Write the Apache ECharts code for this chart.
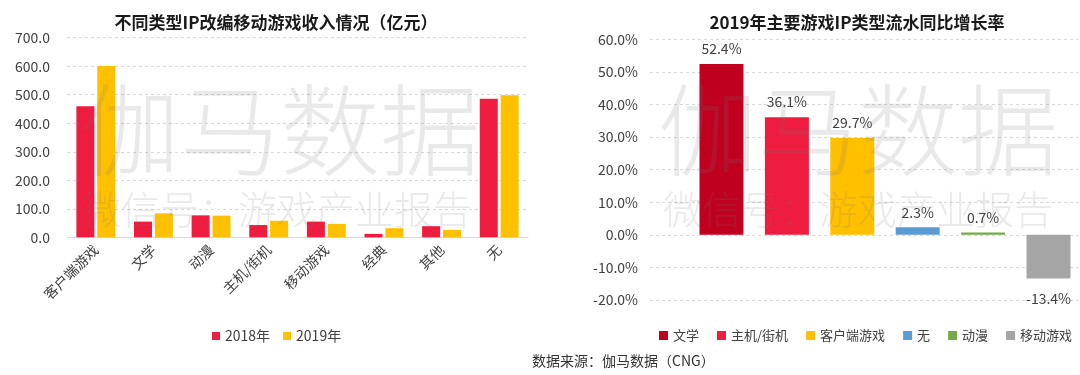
<!DOCTYPE html>
<html>
<head>
<meta charset="utf-8">
<script src="https://cdn.jsdelivr.net/npm/echarts@6/dist/echarts.min.js"></script>
<style>
html,body{margin:0;padding:0;background:#fff;}
#c{width:1080px;height:375px;}
</style>
</head>
<body>
<div id="c"></div>
<script>
// ---- data ----
const categories = ['客户端游戏', '文学', '动漫', '主机/街机', '移动游戏', '经典', '其他', '无'];
const revenue2018 = [460, 55, 77, 43, 55, 12, 39, 486];
const revenue2019 = [601, 84, 76, 58, 47, 32, 26, 498];
const yearNames = ['2018年', '2019年'];

const growthCats = ['文学', '主机/街机', '客户端游戏', '无', '动漫', '移动游戏'];
const growthValues = [52.4, 36.1, 29.7, 2.3, 0.7, -13.4];
const growthColors = ['#C0001F', '#EE1C3E', '#FFC000', '#5B9BD5', '#70AD47', '#A5A5A5'];

const leftTitle = '不同类型IP改编移动游戏收入情况（亿元）';
const rightTitle = '2019年主要游戏IP类型流水同比增长率';
const footer = '数据来源：伽马数据（CNG）';

const FONT = '"Noto Sans CJK SC", "Noto Sans", sans-serif';
const grid0 = {left: 67, right: 552, top: 37.7, bottom: 137.7};
const grid1 = {left: 650, right: 2, top: 39.3, bottom: 75};

const chart = echarts.init(document.getElementById('c'), null, {renderer: 'canvas'});

const splitLine = {show: true, lineStyle: {color: '#d9d9d9', type: [3, 3], width: 1}};

const growthSeries = growthCats.map((name, i) => ({
  name: name,
  type: 'bar',
  xAxisIndex: 1,
  yAxisIndex: 1,
  stack: 'g',
  barWidth: 44,
  itemStyle: {color: growthColors[i]},
  label: {
    show: true,
    position: growthValues[i] >= 0 ? 'top' : 'bottom',
    distance: growthValues[i] >= 0 ? 8 : 13,
    fontSize: 14,
    fontFamily: FONT,
    color: '#404040',
    formatter: p => p.value[1].toFixed(1) + '%'
  },
  data: [[i, growthValues[i]]]
}));

const option = {
  animation: false,
  backgroundColor: '#fff',
  textStyle: {fontFamily: FONT},
  title: [
    {text: leftTitle, left: 271, top: 9, textAlign: 'center',
      textStyle: {fontSize: 17, fontWeight: 'bold', color: '#1a1a1a', fontFamily: FONT}},
    {text: rightTitle, left: 852, top: 9, textAlign: 'center',
      textStyle: {fontSize: 17, fontWeight: 'bold', color: '#1a1a1a', fontFamily: FONT}}
  ],
  legend: [
    {data: yearNames, left: 207, top: 324, itemWidth: 8, itemHeight: 8, itemGap: 13,
      icon: 'rect', textStyle: {fontSize: 14, color: '#404040', fontFamily: FONT}},
    {data: growthCats, left: 654, top: 324, width: 426, itemWidth: 9, itemHeight: 9, itemGap: 18,
      icon: 'rect', textStyle: {fontSize: 13, color: '#404040', fontFamily: FONT}}
  ],
  grid: [grid0, grid1],
  xAxis: [
    {type: 'category', gridIndex: 0, data: categories,
      axisLine: {show: true, lineStyle: {color: '#d9d9d9'}},
      axisTick: {show: false},
      axisLabel: {interval: 0, rotate: 45, fontSize: 14, color: '#404040', margin: 10, fontFamily: FONT}},
    {type: 'value', gridIndex: 1, min: -1.093, max: 5.451,
      show: false, splitLine: {show: false}}
  ],
  yAxis: [
    {type: 'value', gridIndex: 0, min: 0, max: 700, interval: 100,
      axisLine: {show: false}, axisTick: {show: false},
      axisLabel: {fontSize: 14, color: '#404040', margin: 17, formatter: v => v.toFixed(1), fontFamily: FONT},
      splitLine: splitLine},
    {type: 'value', gridIndex: 1, min: -20, max: 60, interval: 10,
      axisLine: {show: false}, axisTick: {show: false},
      axisLabel: {fontSize: 14, color: '#404040', margin: 12, formatter: v => v.toFixed(1) + '%', fontFamily: FONT},
      splitLine: splitLine}
  ],
  series: [
    {name: yearNames[0], type: 'bar', xAxisIndex: 0, yAxisIndex: 0, barWidth: 18, barGap: '16%',
      itemStyle: {color: '#EE1C3E'}, data: revenue2018},
    {name: yearNames[1], type: 'bar', xAxisIndex: 0, yAxisIndex: 0, barWidth: 18, barGap: '16%',
      itemStyle: {color: '#FFC000'}, data: revenue2019}
  ].concat(growthSeries),
  graphic: [
    {type: 'text', left: 80, top: 80, z: 100, silent: true,
      style: {text: '伽马数据', fontSize: 100, fontFamily: FONT, fontWeight: 300, fill: 'rgba(120,120,120,0.16)'}},
    {type: 'text', left: 82, top: 190, z: 100, silent: true,
      style: {text: '微信号：游戏产业报告', fontSize: 39, fontFamily: FONT, fontWeight: 300, fill: 'rgba(120,120,120,0.16)'}},
    {type: 'text', left: 658, top: 80, z: 100, silent: true,
      style: {text: '伽马数据', fontSize: 100, fontFamily: FONT, fontWeight: 300, fill: 'rgba(120,120,120,0.16)'}},
    {type: 'text', left: 663, top: 190, z: 100, silent: true,
      style: {text: '微信号：游戏产业报告', fontSize: 39, fontFamily: FONT, fontWeight: 300, fill: 'rgba(120,120,120,0.16)'}},
    {type: 'text', left: 532, top: 354, silent: true,
      style: {text: footer, fontSize: 14, fontFamily: FONT, fill: '#333', textAlign: 'center'}}
  ]
};
chart.setOption(option);
</script>
</body>
</html>
